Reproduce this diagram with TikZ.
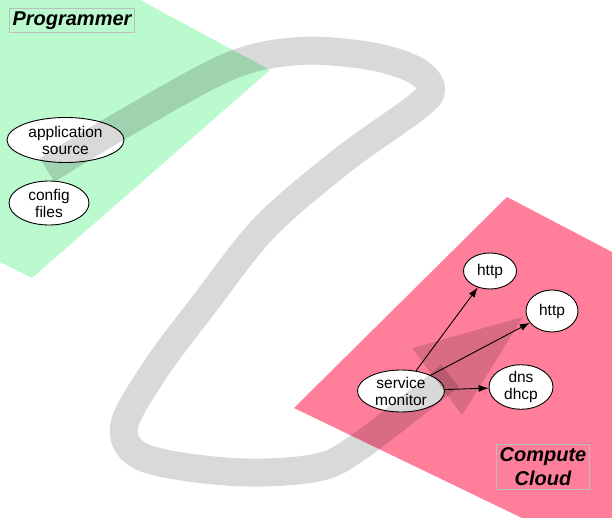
\documentclass[tikz,border=0pt]{standalone}
\usepackage{fontspec}
\setmainfont{Liberation Sans}
\usetikzlibrary{shapes.geometric,arrows.meta}
\definecolor{progreen}{HTML}{BBF9CF}
\definecolor{cloudpink}{HTML}{FF7F9B}
\definecolor{boxgray}{HTML}{BEBEBE}

\begin{document}
\begin{tikzpicture}[x=1pt,y=-1pt,
    proc/.style={draw,ellipse,fill=white,line width=0.9pt,inner sep=0pt,
        align=center,font=\fontsize{15.5}{17}\selectfont},
    area/.style={draw=boxgray,line width=1pt,inner sep=3pt,align=center,
        font=\fontsize{20}{24}\selectfont\bfseries\itshape},
    flow/.style={-{Latex[length=10pt,width=7pt]},line width=0.9pt}]
    \useasboundingbox (0,0) rectangle (612,518);
    \fill[progreen] (0,0) -- (140,0) -- (270,70) -- (32,278) -- (0,262) -- cycle;
    \fill[cloudpink] (294,408) -- (507,197) -- (612,252) -- (612,518) -- (522,518) -- cycle;

    \node[area] (programmer) at (72,20.5) {Programmer};
    \node[area] (cloud) at (543,467) {Compute\\Cloud};

    \node[proc,minimum width=117pt,minimum height=45pt] (appsrc) at (65.5,140) {application\\source};
    \node[proc,minimum width=80pt,minimum height=44pt] (config) at (49,203) {config\\files};
    \node[proc,minimum width=87pt,minimum height=42pt] (monitor) at (401,391) {service\\monitor};
    \node[proc,minimum width=53pt,minimum height=36pt] (http1) at (490,271) {http};
    \node[proc,minimum width=52pt,minimum height=42pt] (http2) at (552,311) {http};
    \node[proc,minimum width=64pt,minimum height=42pt] (dns) at (521,387) {dns\\dhcp};

    \draw[flow] (monitor) -- (http1);
    \draw[flow] (monitor) -- (http2);
    \draw[flow] (monitor) -- (dns);

    % deploy loop
    \draw[black,draw opacity=0.15,line width=28pt,line join=round]
        plot[smooth,tension=0.55] coordinates {(47,170) (125,123) (230,66) (300,51)
        (370,56) (415,70) (431,88) (418,106) (343,160) (265,227) (205,303)
        (155,370) (124,427) (145,458) (233,472) (315,468) (360,446) (450,376)};
    \fill[black,fill opacity=0.15] (412,348) -- (523,317) -- (462,415) -- cycle;
\end{tikzpicture}
\end{document}
